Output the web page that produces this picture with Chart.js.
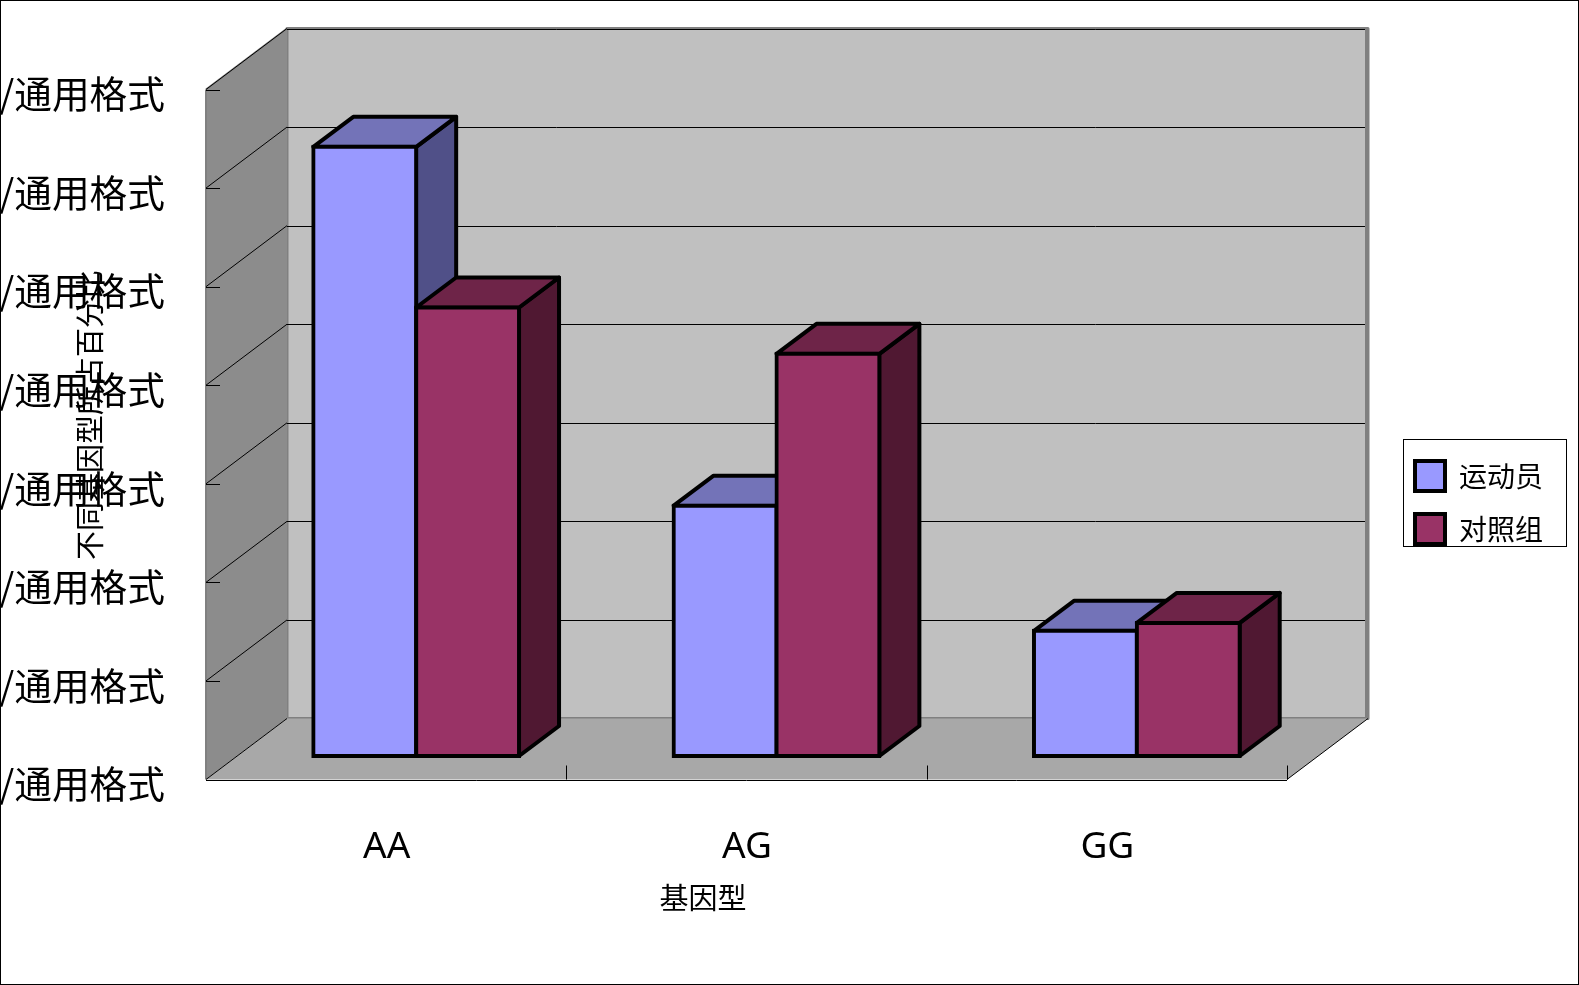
<!DOCTYPE html>
<html><head><meta charset="utf-8">
<style>html,body{margin:0;padding:0;background:#fff;overflow:hidden}canvas{display:block}</style>
<script src="https://cdn.jsdelivr.net/npm/chart.js@4/dist/chart.umd.min.js"></script>
</head><body><canvas id="c" width="1579" height="985"></canvas>
<script>
const categories = ['AA','AG','GG'];
const athletes = [61.8, 25.4, 12.7];
const controls = [45.5, 40.8, 13.5];
const seriesNames = ['运动员','对照组'];
const tickValues = [0,10,20,30,40,50,60,70];
const tickLabel = '/通用格式';
const yTitle = '不同基因型所占百分比';
const xTitle = '基因型';
const FONT = '"Noto Sans","Noto Sans CJK SC",sans-serif';
const CJK = '"Noto Sans CJK SC",sans-serif';

// projection of the 3D box
const BAR_FRONT = {dx:30, dy:23.5};
const FLOOR = {dx:81, dy:61};
const BAR_DEPTH = {dx:40, dy:30};

const faces = [
  {top:'#7373B8', side:'#505088'},
  {top:'#6E2448', side:'#501832'}
];

function poly(ctx, pts, fill, stroke, lw){
  ctx.beginPath();
  pts.forEach((p,i)=> i?ctx.lineTo(p[0],p[1]):ctx.moveTo(p[0],p[1]));
  ctx.closePath();
  if(fill){ctx.fillStyle=fill;ctx.fill();}
  if(stroke){ctx.strokeStyle=stroke;ctx.lineWidth=lw;ctx.lineJoin='round';ctx.stroke();}
}
function line(ctx,x1,y1,x2,y2,c,w){
  ctx.beginPath();ctx.moveTo(x1,y1);ctx.lineTo(x2,y2);ctx.strokeStyle=c;ctx.lineWidth=w;ctx.stroke();
}

const box3d = {
  id:'box3d',
  afterLayout(chart){
    const l = chart.legend;
    if(l){ l.left=1392; l.right=1567; l.top=438; l.bottom=640; }
  },
  beforeDatasetsDraw(chart){
    const ctx=chart.ctx, a=chart.chartArea, y=chart.scales.y, x=chart.scales.x;
    const fl=a.left-BAR_FRONT.dx, fr=a.right-BAR_FRONT.dx;
    const fb=y.getPixelForValue(0)+BAR_FRONT.dy;
    const ft=y.getPixelForValue(70)+BAR_FRONT.dy;
    const bl=fl+FLOOR.dx, br=fr+FLOOR.dx, bb=fb-FLOOR.dy, bt=ft-FLOOR.dy;
    ctx.save();
    // back wall
    poly(ctx,[[bl,bt],[br,bt],[br,bb],[bl,bb]],'#C0C0C0','#808080',3);
    line(ctx,br-1,bt,br-1,bb,'#808080',4);
    // side wall
    poly(ctx,[[fl,ft],[bl,bt],[bl,bb],[fl,fb]],'#8C8C8C');
    line(ctx,fl,ft,bl,bt,'#808080',2);
    line(ctx,fl,ft,fl,fb,'#808080',2);
    // floor
    poly(ctx,[[fl,fb],[fr,fb],[br,bb],[bl,bb]],'#A8A8A8');
    // gridlines on both walls
    tickValues.forEach(v=>{
      const fy=y.getPixelForValue(v)+BAR_FRONT.dy, by=fy-FLOOR.dy;
      if(v>0){
        const gy=Math.round(by)+.5, ty=Math.round(fy)+.5;
        line(ctx,bl,gy,br-3,gy,'#000',1);
        line(ctx,fl,fy,bl,by,'#000',1);
        line(ctx,fl,ty,fl+14,ty,'#000',1);
      }
    });
    // floor edges and category ticks
    const fe=Math.round(fb)+.5;
    line(ctx,bl,bb,fl,fb,'#000',1);
    line(ctx,fl,fe,fr,fe,'#000',1);
    line(ctx,fr,fb,br,bb,'#000',1);
    for(let i=1;i<=categories.length;i++){
      const tx=x.getPixelForTick(i-1)+(x.getPixelForTick(1)-x.getPixelForTick(0))/2-BAR_FRONT.dx;
      line(ctx,Math.round(tx)+.5,fb-14,Math.round(tx)+.5,fb,'#000',1);
    }
    // series in reading order, each with its top and side faces behind its bars
    faces.forEach((f,i)=>{
      const meta=chart.getDatasetMeta(i), d=BAR_DEPTH;
      meta.data.forEach(b=>{
        const l=b.x-b.width/2, r=b.x+b.width/2, t=b.y, bo=b.base;
        poly(ctx,[[r,t],[r+d.dx,t-d.dy],[r+d.dx,bo-d.dy],[r,bo]],f.side,'#000',4);
        poly(ctx,[[l,t],[l+d.dx,t-d.dy],[r+d.dx,t-d.dy],[r,t]],f.top,'#000',4);
      });
      meta.controller.draw();
    });
    ctx.restore();
    return false;
  },
  afterDraw(chart){
    const ctx=chart.ctx;
    ctx.save();
    // legend frame, cutting off what overflows it
    ctx.fillStyle='#fff';ctx.fillRect(1403,547,165,60);
    ctx.strokeStyle='#000';ctx.lineWidth=1;ctx.strokeRect(1403.5,439.5,163,107);
    // axis titles
    ctx.fillStyle='#000';ctx.font='29px '+CJK;ctx.textAlign='center';ctx.textBaseline='middle';
    ctx.fillText(xTitle,703,898);
    ctx.save();ctx.translate(90,415);ctx.rotate(-Math.PI/2);ctx.fillText(yTitle,0,0);ctx.restore();
    // outer frame
    ctx.strokeRect(.5,.5,1578,984);
    ctx.restore();
  }
};

new Chart(document.getElementById('c'),{
  type:'bar',
  data:{labels:categories,datasets:[
    {label:seriesNames[0],data:athletes,backgroundColor:'#9999FF',borderColor:'#000',borderWidth:4,borderSkipped:false,inflateAmount:2,clip:false},
    {label:seriesNames[1],data:controls,backgroundColor:'#993366',borderColor:'#000',borderWidth:4,borderSkipped:false,inflateAmount:2,clip:false}
  ]},
  plugins:[box3d],
  options:{
    responsive:false,animation:false,devicePixelRatio:1,
    categoryPercentage:0.571,barPercentage:1,
    layout:{padding:{top:66,right:101,left:0,bottom:0}},
    plugins:{
      tooltip:{enabled:false},title:{display:false},
      legend:{position:'right',align:'start',labels:{
        boxWidth:30,boxHeight:30,padding:23,color:'#000',font:{size:28,family:CJK}
      }}
    },
    scales:{
      x:{
        grid:{display:false,drawTicks:false,tickLength:0},border:{display:false},
        ticks:{color:'#000',font:{size:37,family:FONT},padding:69,labelOffset:-29.5,maxRotation:0},
        afterFit(s){s.height=229;s.paddingLeft=0;s.paddingRight=0;}
      },
      y:{
        min:0,max:70,
        grid:{display:false,drawTicks:false,tickLength:0},border:{display:false},
        afterBuildTicks(s){s.ticks=tickValues.map(v=>({value:v}));},
        ticks:{color:'#000',font:{size:37.7,family:CJK},padding:71,labelOffset:28,callback:()=>tickLabel},
        afterFit(s){s.width=236;s.paddingTop=0;s.paddingBottom=0;}
      }
    }
  }
});
</script></body></html>
